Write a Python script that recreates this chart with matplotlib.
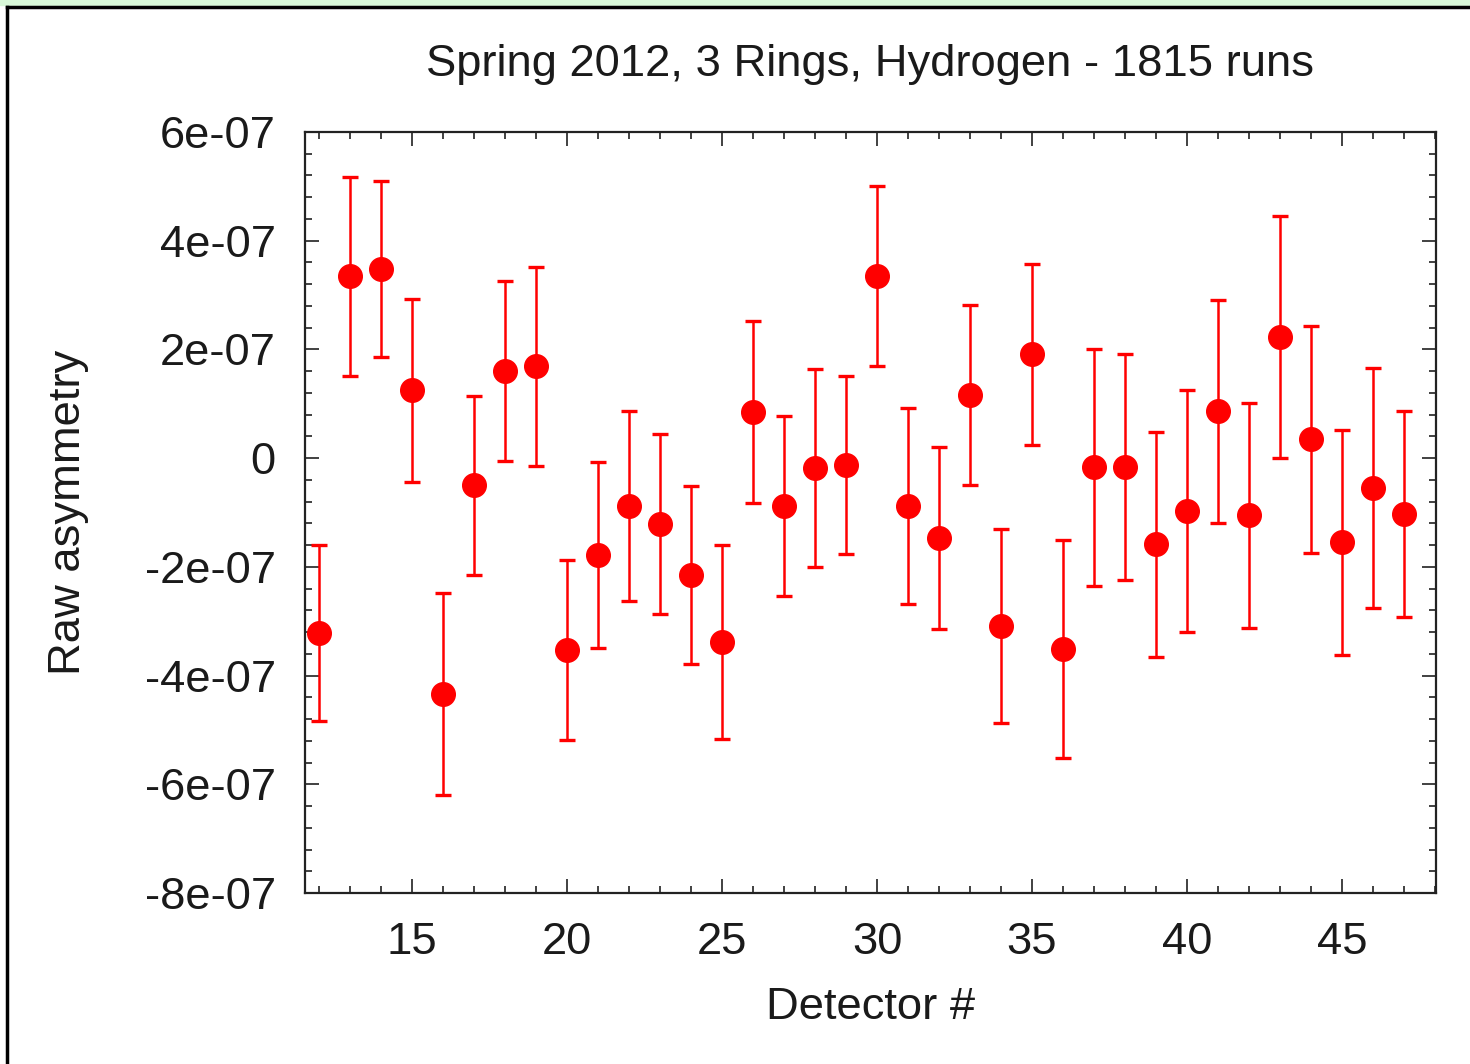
import numpy as np
import matplotlib.pyplot as plt
from matplotlib.ticker import MultipleLocator, FuncFormatter
from matplotlib.lines import Line2D
from matplotlib.patches import Rectangle

plt.rcParams['font.family'] = ['Liberation Sans', 'DejaVu Sans']

# data (asymmetry in units of 1e-7)
detector = list(range(12, 48))
asym = [-3.22, 3.35, 3.48, 1.25, -4.34, -0.50, 1.60, 1.69, -3.53, -1.78,
        -0.88, -1.21, -2.15, -3.38, 0.85, -0.88, -0.18, -0.13, 3.35, -0.88,
        -1.47, 1.16, -3.09, 1.91, -3.51, -0.17, -0.17, -1.58, -0.97, 0.86,
        -1.05, 2.23, 0.35, -1.55, -0.55, -1.03]
err = [1.62, 1.83, 1.62, 1.68, 1.85, 1.65, 1.66, 1.83, 1.66, 1.71,
       1.74, 1.65, 1.64, 1.78, 1.67, 1.66, 1.82, 1.64, 1.66, 1.80,
       1.68, 1.66, 1.78, 1.66, 2.00, 2.18, 2.08, 2.07, 2.22, 2.05,
       2.07, 2.23, 2.09, 2.07, 2.20, 1.89]

title = "Spring 2012, 3 Rings, Hydrogen - 1815 runs"

fig = plt.figure(figsize=(14.7, 10.64), dpi=100)
ax = fig.add_axes([305/1470, 1-893/1064, (1436-305)/1470, (893-132)/1064])

y = np.array(asym) * 1e-7
e = np.array(err) * 1e-7
ax.errorbar(detector, y, yerr=e, fmt='o', color='red', ms=17,
            elinewidth=1.8, capsize=5.5, capthick=2.4)

ax.set_xlim(11.55, 48.03)
ax.set_ylim(-8e-7, 6e-7)
ax.xaxis.set_major_locator(MultipleLocator(5))
ax.xaxis.set_minor_locator(MultipleLocator(1))
ax.yaxis.set_major_locator(MultipleLocator(2e-7))
ax.yaxis.set_minor_locator(MultipleLocator(0.4e-7))
ax.yaxis.set_major_formatter(FuncFormatter(lambda v, p: '0' if abs(v) < 1e-12 else '%g' % v))
ax.tick_params(which='both', direction='in', top=True, right=True,
               labelsize=32.7, pad=21, color='#333333', labelcolor='#1a1a1a')
ax.tick_params(which='major', length=10, width=1.3)
ax.tick_params(which='minor', length=5, width=1.3)
for s in ax.spines.values():
    s.set_linewidth(1.6)
    s.set_color('#222222')

ax.set_title(title, fontsize=32.7, pad=40, color='#1a1a1a')
ax.set_xlabel("Detector #", fontsize=32.7, labelpad=17, color='#1a1a1a')
ax.set_ylabel("Raw asymmetry", fontsize=32.7, labelpad=40, color='#1a1a1a')

# outer frame like the screenshot
fig.patches.append(Rectangle((0, 1-5/1064), 1, 5/1064, transform=fig.transFigure,
                             color='#d8f8d8', zorder=0))
fig.lines.append(Line2D([7/1470, 1], [1-7/1064, 1-7/1064], transform=fig.transFigure,
                        color='black', lw=2.5))
fig.lines.append(Line2D([7/1470, 7/1470], [0, 1-7/1064], transform=fig.transFigure,
                        color='black', lw=2.5))

fig.savefig('out.png', dpi=100)
